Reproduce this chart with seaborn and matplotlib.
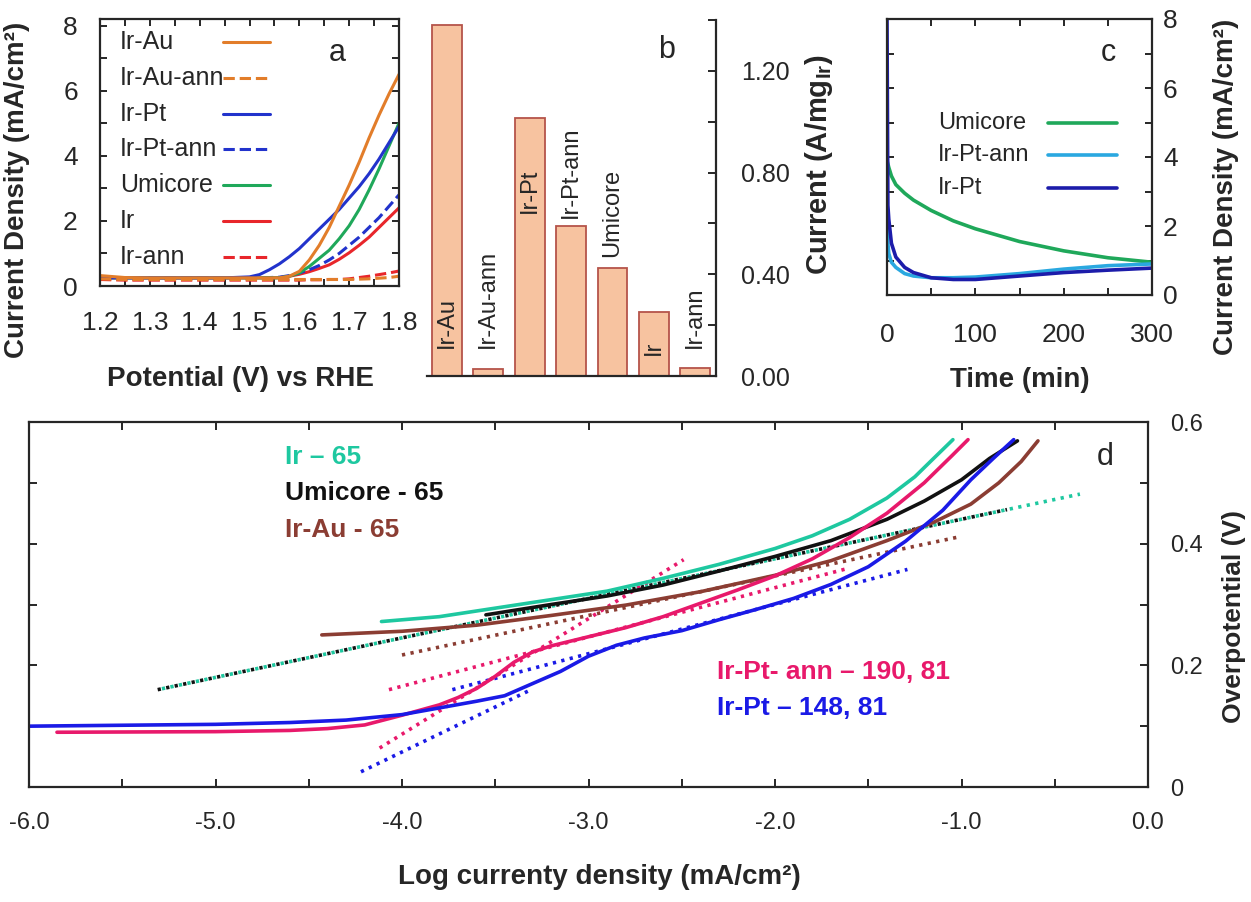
import numpy as np
import matplotlib
matplotlib.use("Agg")
import matplotlib.pyplot as plt
from matplotlib import font_manager
from matplotlib.ticker import MultipleLocator, FormatStrFormatter, FixedLocator
import seaborn as sns

# ---------------- (a) polarisation curves ----------------
potential = [1.20, 1.25, 1.30, 1.35, 1.40, 1.45, 1.50, 1.52, 1.54, 1.56, 1.58,
             1.60, 1.62, 1.64, 1.66, 1.68, 1.70, 1.72, 1.74, 1.76, 1.78, 1.80]
lsv_ir_au = [0.32, 0.26, 0.25, 0.25, 0.25, 0.25, 0.25, 0.25, 0.25, 0.25, 0.30,
             0.45, 0.80, 1.25, 1.80, 2.45, 3.10, 3.80, 4.55, 5.25, 5.90, 6.50]
lsv_ir_au_ann = [0.22, 0.20, 0.20, 0.20, 0.20, 0.20, 0.20, 0.20, 0.20, 0.20, 0.20,
                 0.20, 0.20, 0.20, 0.20, 0.20, 0.20, 0.21, 0.22, 0.24, 0.26, 0.30]
lsv_ir_pt = [0.25, 0.25, 0.25, 0.25, 0.25, 0.25, 0.28, 0.35, 0.50, 0.68, 0.90,
             1.15, 1.45, 1.75, 2.05, 2.35, 2.70, 3.05, 3.45, 3.90, 4.40, 4.90]
lsv_ir_pt_ann = [0.25, 0.25, 0.25, 0.25, 0.25, 0.25, 0.25, 0.25, 0.26, 0.27, 0.32,
                 0.40, 0.50, 0.63, 0.80, 1.00, 1.25, 1.50, 1.80, 2.10, 2.45, 2.80]
lsv_umicore = [0.25, 0.25, 0.25, 0.25, 0.25, 0.25, 0.25, 0.25, 0.25, 0.25, 0.30,
               0.40, 0.60, 0.85, 1.10, 1.45, 1.85, 2.35, 2.95, 3.60, 4.30, 5.00]
lsv_ir = [0.25, 0.25, 0.25, 0.25, 0.25, 0.25, 0.25, 0.25, 0.25, 0.26, 0.30,
          0.36, 0.44, 0.54, 0.65, 0.82, 1.02, 1.25, 1.50, 1.80, 2.10, 2.40]
lsv_ir_ann = [0.20, 0.18, 0.18, 0.18, 0.18, 0.18, 0.18, 0.18, 0.18, 0.18, 0.18,
              0.18, 0.19, 0.19, 0.20, 0.20, 0.22, 0.26, 0.30, 0.35, 0.40, 0.46]

# ---------------- (b) mass activity ----------------
catalysts = ["Ir-Au", "Ir-Au-ann", "Ir-Pt", "Ir-Pt-ann", "Umicore", "Ir", "Ir-ann"]
mass_activity = [1.38, 0.027, 1.015, 0.59, 0.425, 0.25, 0.03]

# ---------------- (c) chronoamperometry ----------------
time_min = [0, 1, 2, 5, 10, 20, 30, 50, 75, 100, 150, 200, 250, 300]
ca_umicore = [3.90, 3.80, 3.70, 3.45, 3.20, 2.95, 2.75, 2.45, 2.15, 1.92,
              1.55, 1.28, 1.08, 0.95]
ca_ir_pt_ann = [2.00, 1.50, 1.20, 0.95, 0.80, 0.62, 0.55, 0.50, 0.50, 0.52,
                0.62, 0.75, 0.85, 0.90]
ca_ir_pt = [8.00, 2.60, 2.20, 1.50, 1.10, 0.80, 0.65, 0.50, 0.45, 0.45,
            0.55, 0.65, 0.72, 0.78]

# ---------------- (d) Tafel plots ----------------
tafel_ir_pt_x = [-6.00, -5.00, -4.60, -4.30, -4.00, -3.80, -3.60, -3.45, -3.30,
                 -3.15, -3.00, -2.85, -2.70, -2.50, -2.30, -2.10, -1.90, -1.70,
                 -1.50, -1.30, -1.10, -0.95, -0.83, -0.72]
tafel_ir_pt_y = [0.100, 0.103, 0.106, 0.110, 0.119, 0.130, 0.141, 0.150, 0.170,
                 0.190, 0.215, 0.233, 0.245, 0.257, 0.275, 0.292, 0.310, 0.333,
                 0.362, 0.404, 0.455, 0.505, 0.540, 0.571]
tafel_ir_pt_ann_x = [-5.85, -5.00, -4.60, -4.40, -4.20, -4.00, -3.80, -3.70, -3.60,
                     -3.50, -3.40, -3.30, -3.20, -3.00, -2.80, -2.60, -2.40, -2.20,
                     -2.00, -1.80, -1.60, -1.40, -1.20, -1.05, -0.965]
tafel_ir_pt_ann_y = [0.090, 0.091, 0.093, 0.096, 0.102, 0.118, 0.135, 0.147, 0.162,
                     0.182, 0.205, 0.222, 0.232, 0.247, 0.262, 0.280, 0.302, 0.324,
                     0.347, 0.375, 0.410, 0.450, 0.500, 0.545, 0.571]
tafel_ir_x = [-4.11, -3.80, -3.50, -3.20, -2.90, -2.60, -2.30, -2.00, -1.80,
              -1.60, -1.40, -1.25, -1.15, -1.046]
tafel_ir_y = [0.272, 0.280, 0.294, 0.308, 0.322, 0.343, 0.366, 0.392, 0.413,
              0.440, 0.475, 0.510, 0.540, 0.571]
tafel_umicore_x = [-3.55, -3.20, -2.90, -2.60, -2.30, -2.00, -1.70, -1.40, -1.20,
                   -1.00, -0.85, -0.70]
tafel_umicore_y = [0.283, 0.300, 0.314, 0.332, 0.355, 0.379, 0.405, 0.440, 0.470,
                   0.505, 0.540, 0.569]
tafel_ir_au_x = [-4.43, -4.00, -3.60, -3.20, -2.80, -2.40, -2.00, -1.70, -1.40,
                 -1.15, -0.95, -0.80, -0.68, -0.59]
tafel_ir_au_y = [0.250, 0.256, 0.266, 0.282, 0.299, 0.321, 0.348, 0.372, 0.405,
                 0.435, 0.465, 0.500, 0.535, 0.569]

# linear Tafel fits: slope in mV/dec, start point and end of the fitted range
fit_names = ["Umicore", "Ir", "Ir-Au", "Ir-Pt-ann hi", "Ir-Pt-ann lo", "Ir-Pt hi", "Ir-Pt lo"]
fit_slope = [65, 65, 65, 190, 81, 148, 81]
fit_x_start = [-5.31, -5.31, -4.00, -4.12, -4.07, -4.22, -3.73]
fit_x_end = [-0.756, -0.365, -1.02, -2.49, -1.61, -3.30, -1.29]
fit_y_start = [0.160, 0.160, 0.217, 0.064, 0.160, 0.025, 0.160]

# ---------------- style ----------------
sns.set_style("ticks")
installed = {f.name for f in font_manager.fontManager.ttflist}
base_font = "Liberation Sans Narrow" if "Liberation Sans Narrow" in installed else "Liberation Sans"
plt.rcParams["font.family"] = [base_font, "DejaVu Sans"]
plt.rcParams["axes.linewidth"] = 1.6
for k in ("xtick.major.width", "ytick.major.width", "xtick.minor.width", "ytick.minor.width"):
    plt.rcParams[k] = 1.4

C_ORANGE = "#e27d2a"
C_BLUE_A = "#2233cc"
C_GREEN = "#1fa85a"
C_RED = "#e8262b"
C_TEAL = "#1ec8a0"
C_PINK = "#e8196b"
C_BLUE_D = "#1a1ae6"
C_BROWN = "#8b3d33"
C_BLACK = "#111111"
C_SKY = "#2aa8e0"
C_NAVY = "#1c1caa"

fig = plt.figure(figsize=(12.51, 9.02), dpi=100)
W, H = 1251.0, 902.0


def add_axes_px(x0, y0, x1, y1):
    return fig.add_axes([x0 / W, 1 - y1 / H, (x1 - x0) / W, (y1 - y0) / H])


def boxed_ticks(ax, size):
    ax.tick_params(which="both", direction="in", top=True, right=True,
                   length=5, labelsize=size)


# ---------------- panel (a) ----------------
ax_a = add_axes_px(100, 19, 399, 286)
series_a = [
    ("Ir-ann", lsv_ir_ann, C_RED, "--"),
    ("Ir", lsv_ir, C_RED, "-"),
    ("Ir-Pt-ann", lsv_ir_pt_ann, C_BLUE_A, "--"),
    ("Umicore", lsv_umicore, C_GREEN, "-"),
    ("Ir-Pt", lsv_ir_pt, C_BLUE_A, "-"),
    ("Ir-Au-ann", lsv_ir_au_ann, C_ORANGE, "--"),
    ("Ir-Au", lsv_ir_au, C_ORANGE, "-"),
]
for name, vals, col, ls in series_a:
    sns.lineplot(x=potential, y=vals, ax=ax_a, color=col, linestyle=ls,
                 lw=2.2, sort=False, estimator=None)
ax_a.set_xlim(1.2, 1.8)
ax_a.set_ylim(0, 8.2)
ax_a.xaxis.set_major_locator(MultipleLocator(0.1))
ax_a.xaxis.set_minor_locator(MultipleLocator(0.05))
ax_a.xaxis.set_major_formatter(FormatStrFormatter("%.1f"))
ax_a.yaxis.set_major_locator(MultipleLocator(2))
ax_a.yaxis.set_minor_locator(MultipleLocator(1))
boxed_ticks(ax_a, 19)
ax_a.tick_params(axis="x", pad=18)
ax_a.tick_params(axis="y", pad=16)
ax_a.set_xlabel("Potential (V) vs RHE", fontsize=20, fontweight="bold")
ax_a.set_ylabel("Current Density (mA/cm²)", fontsize=20, fontweight="bold")
ax_a.xaxis.set_label_coords(0.47, -0.30)
ax_a.yaxis.set_label_coords(-0.235, 0.36)
legend_a = [("Ir-Au", C_ORANGE, "-"), ("Ir-Au-ann", C_ORANGE, "--"),
            ("Ir-Pt", C_BLUE_A, "-"), ("Ir-Pt-ann", C_BLUE_A, "--"),
            ("Umicore", C_GREEN, "-"), ("Ir", C_RED, "-"), ("Ir-ann", C_RED, "--")]
for i, (name, col, ls) in enumerate(legend_a):
    yy = 0.914 - i * 0.134
    ax_a.text(0.067, yy, name, transform=ax_a.transAxes, fontsize=18, va="center")
    ax_a.plot([0.411, 0.569], [yy, yy], transform=ax_a.transAxes, color=col,
              ls=ls, lw=2.2)
ax_a.text(0.793, 0.873, "a", transform=ax_a.transAxes, fontsize=22,
          ha="center", va="center")

# ---------------- panel (b) ----------------
ax_b = add_axes_px(427, 20, 716, 376)
sns.barplot(x=catalysts, y=mass_activity, ax=ax_b, color="#f7c3a0",
            edgecolor="#b5544a", linewidth=1.3, width=0.72, saturation=1)
ax_b.set_xlim(-0.48, 6.5)
ax_b.set_ylim(0, 1.40)
for side in ("left", "top"):
    ax_b.spines[side].set_visible(False)
ax_b.yaxis.tick_right()
ax_b.yaxis.set_label_position("right")
ax_b.yaxis.set_major_locator(MultipleLocator(0.4))
ax_b.yaxis.set_minor_locator(MultipleLocator(0.2))
ax_b.yaxis.set_major_formatter(FormatStrFormatter("%.2f"))
ax_b.tick_params(axis="y", which="both", direction="in", length=6,
                 labelsize=18, pad=18, left=False, right=True)
ax_b.tick_params(axis="x", bottom=False, labelbottom=False)
ax_b.set_xlabel("")
ax_b.set_ylabel("Current (A/mg$_{\\mathregular{Ir}}$)", fontsize=21,
                fontweight="bold")
ax_b.yaxis.set_label_coords(1.30, 0.593)
# vertical names sit inside the tall bars and above the short ones
name_base = [0.11, 0.11, 0.64, 0.62, 0.467, 0.082, 0.11]
for i, name in enumerate(catalysts):
    ax_b.text(i, name_base[i], name, rotation=90, ha="center", va="bottom",
              fontsize=17)
ax_b.text(0.83, 0.916, "b", transform=ax_b.transAxes, fontsize=22,
          ha="center", va="center")

# ---------------- panel (c) ----------------
ax_c = add_axes_px(887, 19, 1152, 295)
for vals, col in [(ca_umicore, C_GREEN), (ca_ir_pt_ann, C_SKY), (ca_ir_pt, C_NAVY)]:
    sns.lineplot(x=time_min, y=vals, ax=ax_c, color=col, lw=2.6, sort=False,
                 estimator=None)
ax_c.set_xlim(0, 300)
ax_c.set_ylim(0, 8)
ax_c.xaxis.set_major_locator(MultipleLocator(100))
ax_c.xaxis.set_minor_locator(MultipleLocator(50))
ax_c.yaxis.set_major_locator(MultipleLocator(2))
ax_c.yaxis.set_minor_locator(MultipleLocator(1))
boxed_ticks(ax_c, 19)
ax_c.tick_params(axis="y", labelleft=False, labelright=True, pad=8)
ax_c.tick_params(axis="x", pad=20)
ax_c.yaxis.set_label_position("right")
ax_c.set_xlabel("Time (min)", fontsize=20, fontweight="bold")
ax_c.set_ylabel("Current Density (mA/cm²)", fontsize=20, fontweight="bold")
ax_c.xaxis.set_label_coords(0.502, -0.26)
ax_c.yaxis.set_label_coords(1.23, 0.39)
legend_c = [("Umicore", C_GREEN), ("Ir-Pt-ann", C_SKY), ("Ir-Pt", C_NAVY)]
for i, (name, col) in enumerate(legend_c):
    yy = 0.623 - i * 0.117
    ax_c.text(0.192, yy, name, transform=ax_c.transAxes, fontsize=17, va="center")
    ax_c.plot([0.608, 0.868], [yy, yy], transform=ax_c.transAxes, color=col, lw=2.6)
ax_c.text(0.834, 0.877, "c", transform=ax_c.transAxes, fontsize=22,
          ha="center", va="center")

# ---------------- panel (d) ----------------
ax_d = add_axes_px(29, 422, 1148, 787)
fit_colors = [C_BLACK, C_TEAL, C_BROWN, C_PINK, C_PINK, C_BLUE_D, C_BLUE_D]
fit_offsets = [0.0, 1.2, 0.0, 0.0, 0.0, 0.0, 0.0]
for k in range(len(fit_names)):
    xs = np.array([fit_x_start[k], fit_x_end[k]])
    ys = fit_y_start[k] + fit_slope[k] / 1000.0 * (xs - fit_x_start[k])
    sns.lineplot(x=xs, y=ys, ax=ax_d, color=fit_colors[k], lw=2.6,
                 linestyle=(fit_offsets[k], (0.9, 1.5)), sort=False, estimator=None)

curves_d = [(tafel_ir_au_x, tafel_ir_au_y, C_BROWN),
            (tafel_ir_x, tafel_ir_y, C_TEAL),
            (tafel_umicore_x, tafel_umicore_y, C_BLACK),
            (tafel_ir_pt_ann_x, tafel_ir_pt_ann_y, C_PINK),
            (tafel_ir_pt_x, tafel_ir_pt_y, C_BLUE_D)]
for xs, ys, col in curves_d:
    sns.lineplot(x=xs, y=ys, ax=ax_d, color=col, lw=2.6, sort=False, estimator=None)

ax_d.set_xlim(-6.0, 0.0)
ax_d.set_ylim(0, 0.6)
ax_d.xaxis.set_major_locator(MultipleLocator(1.0))
ax_d.xaxis.set_minor_locator(MultipleLocator(0.5))
ax_d.xaxis.set_major_formatter(FormatStrFormatter("%.1f"))
ax_d.yaxis.set_major_locator(FixedLocator([0, 0.2, 0.4, 0.6]))
ax_d.yaxis.set_minor_locator(MultipleLocator(0.1))
ax_d.yaxis.set_major_formatter(FormatStrFormatter("%g"))
ax_d.tick_params(which="both", direction="in", top=True, right=True, length=6,
                 labelsize=17)
ax_d.tick_params(axis="y", labelleft=False, labelright=True, pad=16)
ax_d.tick_params(axis="x", pad=18)
ax_d.yaxis.set_label_position("right")
ax_d.set_xlabel("Log currenty density (mA/cm²)", fontsize=20, fontweight="bold")
ax_d.set_ylabel("Overpotential (V)", fontsize=19, fontweight="bold")
ax_d.xaxis.set_label_coords(0.51, -0.21)
ax_d.yaxis.set_label_coords(1.066, 0.466)

ax_d.text(-4.627, 0.5425, "Ir – 65", color=C_TEAL, fontsize=19,
          fontweight="bold", va="center")
ax_d.text(-4.627, 0.483, "Umicore - 65", color=C_BLACK, fontsize=19,
          fontweight="bold", va="center")
ax_d.text(-4.627, 0.4225, "Ir-Au - 65", color=C_BROWN, fontsize=19,
          fontweight="bold", va="center")
ax_d.text(-2.31, 0.189, "Ir-Pt- ann – 190, 81", color=C_PINK, fontsize=19,
          fontweight="bold", va="center")
ax_d.text(-2.31, 0.130, "Ir-Pt – 148, 81", color=C_BLUE_D, fontsize=19,
          fontweight="bold", va="center")
ax_d.text(-0.23, 0.543, "d", fontsize=22, ha="center", va="center")

fig.savefig("out.png", dpi=100)
